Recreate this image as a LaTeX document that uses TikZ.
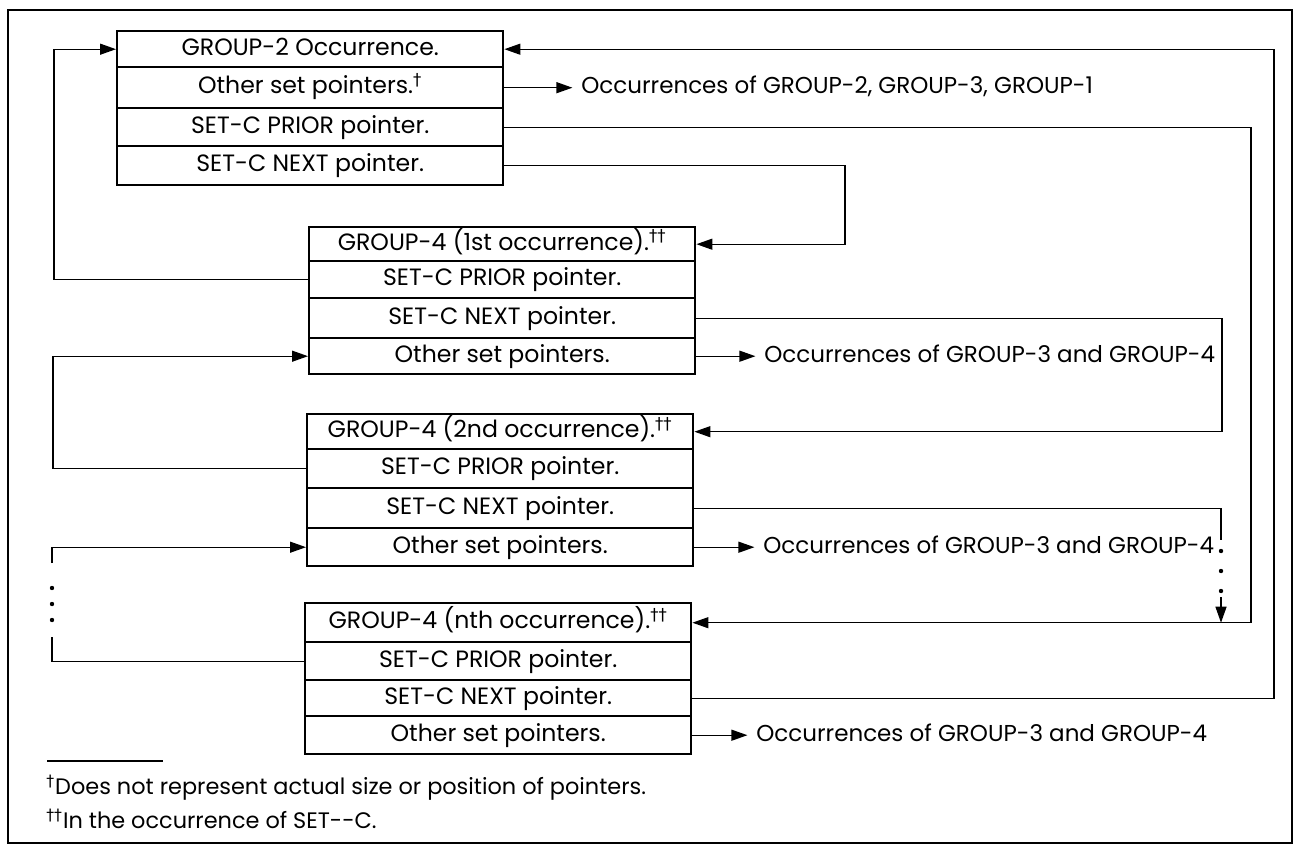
\documentclass[tikz,border=0pt]{standalone}
\usepackage{fontspec}
\setmainfont{Poppins}
\newfontfamily\dagfont{DejaVu Sans}
\usetikzlibrary{arrows.meta}
\newcommand{\dg}{\textsuperscript{\dagfont †}}
\newcommand{\ddg}{\textsuperscript{\dagfont ††}}
\begin{document}
\begin{tikzpicture}[x=0.5pt,y=-0.5pt,
  every node/.style={font=\fontsize{11.8}{13}\selectfont},
  row/.style={draw, line width=1.2pt, inner sep=0pt, anchor=north west,
    text height=8.5pt, text depth=2.3pt, align=center},
  lab/.style={inner sep=0pt, outer xsep=4.5pt, anchor=west, text height=8.5pt, text depth=2.3pt,
    font=\fontsize{11.5}{13}\selectfont},
  conn/.style={line width=0.65pt},
  arr/.style={conn, -{Triangle[length=8pt,width=5.5pt]}},
  dotm/.style={circle, fill, inner sep=0pt, minimum size=2.2pt},
  foot/.style={anchor=base west, inner sep=0pt, font=\fontsize{11.2}{13}\selectfont}]
\useasboundingbox (0,0) rectangle (1296,846);
\draw[line width=1.3pt] (8,10) rectangle (1292,843);
% box 1
\begin{scope}[every node/.append style={minimum width=193pt}]
\node[row, minimum height=18pt]   (a1) at (116,30)  {GROUP-2 Occurrence.};
\node[row, minimum height=20.5pt] (a2) at (116,66)  {Other set pointers.\dg};
\node[row, minimum height=19pt]   (a3) at (116,107) {SET-C PRIOR pointer.};
\node[row, minimum height=19.5pt] (a4) at (116,145) {SET-C NEXT pointer.};
% box 2
\node[row, minimum height=17pt]   (b1) at (308,226) {GROUP-4 (1st occurrence).\ddg};
\node[row, minimum height=18.5pt] (b2) at (308,260) {SET-C PRIOR pointer.};
\node[row, minimum height=20pt]   (b3) at (308,297) {SET-C NEXT pointer.};
\node[row, minimum height=18pt]   (b4) at (308,337) {Other set pointers.};
% box 3
\node[row, minimum height=17.5pt] (c1) at (306,413) {GROUP-4 (2nd occurrence).\ddg};
\node[row, minimum height=19.5pt] (c2) at (306,448) {SET-C PRIOR pointer.};
\node[row, minimum height=20pt]   (c3) at (306,487) {SET-C NEXT pointer.};
\node[row, minimum height=19pt]   (c4) at (306,527) {Other set pointers.};
% box 4
\node[row, minimum height=19.5pt] (d1) at (304,602) {GROUP-4 (nth occurrence).\ddg};
\node[row, minimum height=19pt]   (d2) at (304,641) {SET-C PRIOR pointer.};
\node[row, minimum height=18pt]   (d3) at (304,679) {SET-C NEXT pointer.};
\node[row, minimum height=19pt]   (d4) at (304,715) {Other set pointers.};
\end{scope}
% labels
\node[lab] (t1) at ([xshift=34pt]a2.east) {Occurrences of GROUP-2, GROUP-3, GROUP-1};
\node[lab] (t2) at ([xshift=29.5pt]b4.east) {Occurrences of GROUP-3 and GROUP-4};
\node[lab] (t3) at ([xshift=30pt]c4.east) {Occurrences of GROUP-3 and GROUP-4};
\node[lab] (t4) at ([xshift=27.5pt]d4.east) {Occurrences of GROUP-3 and GROUP-4};
\draw[arr] (a2.east) -- (t1.west);
\draw[arr] (b4.east) -- (t2.west);
\draw[arr] (c4.east) -- (t3.west);
\draw[arr] (d4.east) -- (t4.west);
% lanes
\coordinate (L1) at (54,0);
\coordinate (L2) at (53,0);
\coordinate (L3) at (52,0);
\coordinate (R1) at (1274,0);
\coordinate (R2) at (1251,0);
\coordinate (R3) at (845,0);
\coordinate (R4) at (1222,0);
\coordinate (R5) at (1221,0);
\coordinate (L3a) at (52,563);
\coordinate (L3b) at (52,637);
\coordinate (R5a) at (1221,540);
\coordinate (R5b) at (1221,597);
% left connectors
\draw[arr] (b2.west) -- (b2.west -| L1) -- (a1.west -| L1) -- (a1.west);
\draw[arr] (c2.west) -- (c2.west -| L2) -- (b4.west -| L2) -- (b4.west);
\draw[arr] (L3a) -- (c4.west -| L3) -- (c4.west);
\draw[conn] (d2.west) -- (d2.west -| L3) -- (L3b);
\node[dotm] (ld1) at (52,588) {};
\node[dotm] (ld2) at (52,604) {};
\node[dotm] (ld3) at (52,620) {};
% right connectors
\draw[arr] (d3.east) -- (d3.east -| R1) -- (a1.east -| R1) -- (a1.east);
\draw[arr] (a3.east) -- (a3.east -| R2) -- (d1.east -| R2) -- (d1.east);
\draw[arr] (a4.east) -- (a4.east -| R3) -- (b1.east -| R3) -- (b1.east);
\draw[arr] (b3.east) -- (b3.east -| R4) -- (c1.east -| R4) -- (c1.east);
\draw[conn] (c3.east) -- (c3.east -| R5) -- (R5a);
\node[dotm] (rd1) at (1221,551) {};
\node[dotm] (rd2) at (1221,571) {};
\node[dotm] (rd3) at (1221,591) {};
\draw[arr] (R5b) -- (d1.east -| R5);
% footnotes
\draw[line width=1.4pt] (47,761) -- (163,761);
\node[foot] (f1) at (46,794) {\dg Does not represent actual size or position of pointers.};
\node[foot] (f2) at (46,828) {\ddg In the occurrence of SET-{}-C.};
\end{tikzpicture}
\end{document}
